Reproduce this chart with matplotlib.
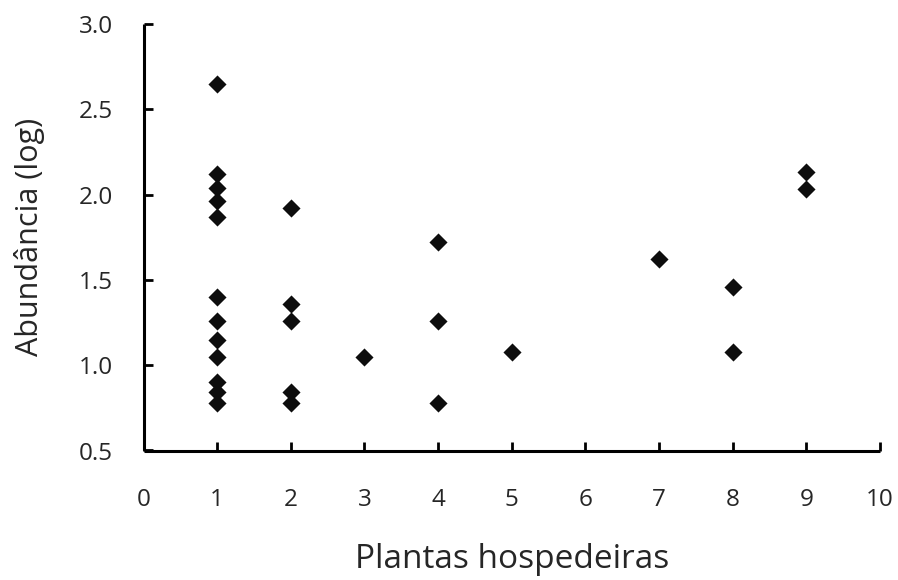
import matplotlib.pyplot as plt

plt.rcParams['font.family'] = ['Open Sans', 'DejaVu Sans']

# host plant count vs log abundance
plantas = [1, 1, 1, 1, 1, 1, 1, 1, 1, 1, 1, 1,
           2, 2, 2, 2, 2,
           3,
           4, 4, 4,
           5,
           7,
           8, 8,
           9, 9]
abundancia = [2.65, 2.12, 2.04, 1.96, 1.87, 1.40, 1.26, 1.15, 1.05, 0.90, 0.84, 0.78,
              1.92, 1.36, 1.26, 0.84, 0.78,
              1.05,
              1.72, 1.26, 0.78,
              1.08,
              1.62,
              1.46, 1.08,
              2.13, 2.03]

x_ticks = [0, 1, 2, 3, 4, 5, 6, 7, 8, 9, 10]
y_ticks = [0.5, 1.0, 1.5, 2.0, 2.5, 3.0]

fig = plt.figure(figsize=(8.98, 5.8), dpi=100)
ax = fig.add_axes([143.5 / 898, 1 - 450.5 / 580, (880 - 143.5) / 898, (450.5 - 24) / 580])

ax.scatter(plantas, abundancia, marker='D', s=85, color='#0d0d0d', linewidths=0, zorder=3, clip_on=False)

ax.set_xlim(0, 10)
ax.set_ylim(0.5, 3.0)
ax.set_xticks(x_ticks)
ax.set_yticks(y_ticks)
ax.set_yticklabels([f'{v:.1f}' for v in y_ticks])

for side in ['top', 'right']:
    ax.spines[side].set_visible(False)
for side in ['left', 'bottom']:
    ax.spines[side].set_linewidth(2.2)
    ax.spines[side].set_capstyle('butt')

ax.tick_params(direction='in', length=6.5, width=2.0, labelsize=17.5, colors='black', labelcolor='#262626')
ax.tick_params(axis='x', pad=27)
ax.tick_params(axis='y', pad=22)

ax.set_xlabel('Plantas hospedeiras', fontsize=24, color='#262626', labelpad=22)
ax.set_ylabel('Abundância (log)', fontsize=22, color='#262626', labelpad=24)

fig.savefig('out.png', dpi=100)
